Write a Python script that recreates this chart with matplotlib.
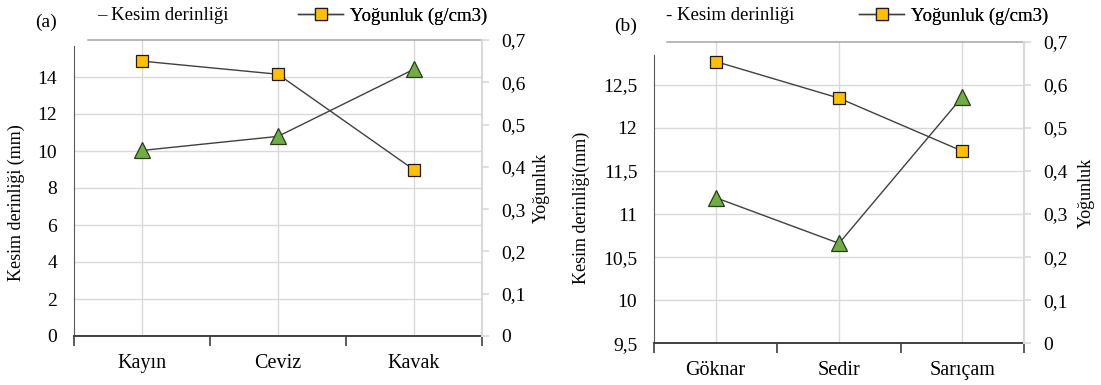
import matplotlib
matplotlib.use("Agg")
from matplotlib import pyplot as plt
from matplotlib.lines import Line2D
from matplotlib.ticker import FuncFormatter

plt.rcParams['font.family'] = ['Liberation Serif', 'DejaVu Serif']

# panel (a)
species_a = ['Kayın', 'Ceviz', 'Kavak']
depth_a = [10.03, 10.79, 14.42]
density_a = [0.650, 0.619, 0.393]

# panel (b)
species_b = ['Göknar', 'Sedir', 'Sarıçam']
depth_b = [11.19, 10.66, 12.36]
density_b = [0.654, 0.569, 0.446]

depth_ticks_a = [0, 2, 4, 6, 8, 10, 12, 14]
depth_ticks_b = [9.5, 10, 10.5, 11, 11.5, 12, 12.5]
density_ticks = [0, 0.1, 0.2, 0.3, 0.4, 0.5, 0.6, 0.7]

LINE = '#404040'
GRID = '#D9D9D9'
GREEN = '#70AD47'
YELLOW = '#FFC000'


def comma(v, pos=None):
    return f"{v:g}".replace('.', ',')


def draw_panel(fig, rect, cats, depth, density, dticks, dlim, spine_top, left_label, lab_x):
    ax = fig.add_axes(rect)
    ax2 = ax.twinx()
    x = list(range(len(cats)))

    ax.plot(x, depth, color=LINE, lw=1, marker='^', ms=11,
            mfc=GREEN, mec='#263d17', mew=0.9, zorder=3)
    ax2.plot(x, density, color=LINE, lw=1, marker='s', ms=9,
             mfc=YELLOW, mec='#1a1a1a', mew=0.9, zorder=3)

    ax.set_xlim(-0.5, len(cats) - 0.5)
    ax.set_ylim(*dlim)
    ax2.set_ylim(0, 0.7)

    # x axis: labels at centres, ticks at category boundaries
    ax.set_xticks(x)
    ax.set_xticklabels(cats, fontsize=14.5)
    ax.set_xticks([i - 0.5 for i in range(len(cats) + 1)], minor=True)
    ax.tick_params(axis='x', which='major', length=0, pad=13)
    ax.tick_params(axis='x', which='minor', length=7, width=1.2, color=LINE)
    ax.grid(axis='x', which='major', color=GRID, lw=1)
    ax.grid(axis='y', color=GRID, lw=1)
    ax.set_axisbelow(True)

    ax.set_yticks(dticks)
    ax.yaxis.set_major_formatter(FuncFormatter(comma))
    ax.tick_params(axis='y', length=0, pad=12, labelsize=14)

    ax2.set_yticks(density_ticks)
    ax2.yaxis.set_major_formatter(FuncFormatter(comma))
    ax2.tick_params(axis='y', length=5, width=1.2, color=GRID, pad=9, labelsize=14)

    for a in (ax, ax2):
        a.spines['top'].set_visible(False)
    ax.spines['right'].set_visible(False)
    ax2.spines['left'].set_visible(False)
    ax2.spines['bottom'].set_visible(False)
    ax.spines['left'].set_color('#595959')
    ax.spines['left'].set_bounds(dlim[0], spine_top)
    ax.spines['bottom'].set_color(LINE)
    ax.spines['bottom'].set_linewidth(1.4)
    ax2.spines['right'].set_color(GRID)
    ax2.spines['right'].set_linewidth(1.5)
    ax2.axhline(0.7, xmin=0.035, xmax=1, color='#A6A6A6', lw=1.1, clip_on=False)

    ax.set_ylabel(left_label, fontsize=13)
    ax.yaxis.set_label_coords(lab_x[0], 0.45)
    ax2.set_ylabel('Yoğunluk', fontsize=13)
    ax2.yaxis.set_label_coords(lab_x[1], 0.5)
    return ax, ax2


fig = plt.figure(figsize=(11.01, 3.85), dpi=100)
W, H = 1101, 385

draw_panel(fig, [74 / W, 49 / H, 408 / W, 296 / H], species_a, depth_a, density_a,
           depth_ticks_a, (0, 16), 15.66, 'Kesim derinliği (mm)', (-0.12, 1.125))
draw_panel(fig, [654 / W, 41.7 / H, 370 / W, 301.6 / H], species_b, depth_b, density_b,
           depth_ticks_b, (9.5, 13), 12.85, 'Kesim derinliği(mm)', (-0.173, 1.146))

# panel letters
fig.text(35 / W, 1 - 22 / H, '(a)', fontsize=14, va='center', ha='left')
fig.text(614 / W, 1 - 26 / H, '(b)', fontsize=14, va='center', ha='left')

# legends (the depth entry shows only a clipped dash)
fig.text(97 / W, 1 - 16 / H, '– Kesim derinliği', fontsize=13.5, va='center', ha='left')
fig.text(666 / W, 1 - 16 / H, '- Kesim derinliği', fontsize=13.5, va='center', ha='left')

dens_handle = Line2D([], [], color=LINE, lw=1, marker='s', ms=8,
                     mfc=YELLOW, mec='#1a1a1a', mew=0.9)
for x0 in (298, 859):
    leg = fig.legend([dens_handle], ['Yoğunluk (g/cm3)'], loc='center left',
                     bbox_to_anchor=(x0 / W, 1 - 16 / H), frameon=False,
                     fontsize=13.5, handlelength=2.4, handletextpad=0.35,
                     borderpad=0, borderaxespad=0)
    fig.add_artist(leg)

fig.savefig('out.png', dpi=100)
